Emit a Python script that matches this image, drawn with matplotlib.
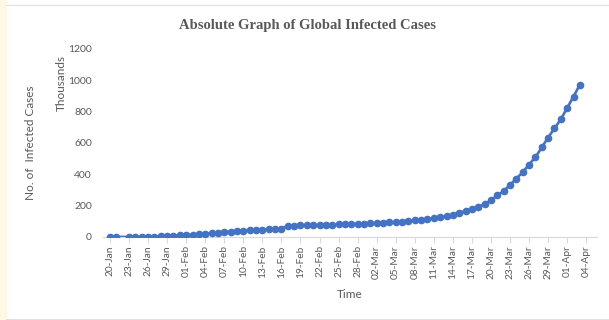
import matplotlib
matplotlib.use("Agg")
import matplotlib.pyplot as plt
import matplotlib.dates as mdates
import numpy as np
import pandas as pd

# global infected cases, thousands (22-Jan has no report)
dates = pd.to_datetime(["2020-01-20", "2020-01-21"] +
                       [d.strftime("%Y-%m-%d") for d in pd.date_range("2020-01-23", "2020-04-03")])
cases = [0.282, 0.314, 0.581, 0.846, 1.320, 2.014, 2.798, 4.593, 6.065, 7.818, 9.826,
         11.953, 14.557, 17.391, 20.630, 24.554, 28.276, 31.481, 34.886, 37.558, 40.554,
         43.103, 45.171, 46.997, 49.053, 50.580, 51.857, 71.429, 73.332, 75.204, 75.748,
         76.769, 77.794, 78.811, 79.331, 80.239, 81.109, 82.294, 83.652, 85.403,
         87.137, 88.948, 90.870, 93.090, 95.324, 98.192, 101.927, 105.586, 109.577,
         113.702, 118.319, 125.260, 132.758, 142.534, 153.517, 167.515, 179.112,
         191.127, 209.839, 234.073, 266.073, 292.142, 332.930, 372.757, 413.467,
         462.684, 509.164, 571.678, 634.835, 693.224, 750.890, 823.626, 896.450, 972.303]
tick_dates = pd.date_range("2020-01-20", "2020-04-04", freq="3D")
y_ticks = [0, 200, 400, 600, 800, 1000, 1200]

grey = "#595959"
plt.rcParams["font.family"] = ["Lato", "DejaVu Sans"]

fig = plt.figure(figsize=(6.09, 3.20), dpi=100)
# cream strip on the left and thin frame lines, as in the screenshot
fig.patches.append(plt.Rectangle((0, 0), 6 / 609, 1, transform=fig.transFigure,
                                 color="#FFF8E5", zorder=0))
fig.add_artist(plt.Line2D([6 / 609, 1], [1 - 5 / 320] * 2, color="#E0E0E0", lw=0.8))
fig.add_artist(plt.Line2D([6 / 609, 1], [1 / 320] * 2, color="#E0E0E0", lw=0.8))

ax = fig.add_axes([103 / 609, 1 - 237 / 320, 494 / 609, 188 / 320])
ax.plot(dates, cases, color="#4472C4", lw=1.9, marker="o", ms=4.5, zorder=3)

ax.set_ylim(0, 1200)
ax.set_yticks(y_ticks)
ax.set_xlim(mdates.date2num(pd.Timestamp("2020-01-20")) - 1.1,
            mdates.date2num(pd.Timestamp("2020-04-04")) + 1.7)
ax.set_xticks(tick_dates)
ax.xaxis.set_major_formatter(mdates.DateFormatter("%d-%b"))
ax.tick_params(axis="x", rotation=90, labelsize=7.3, colors=grey, length=4,
               color="#D9D9D9", pad=2)
ax.tick_params(axis="y", labelsize=7.5, colors=grey, length=0, pad=8)

for s in ["top", "right", "left"]:
    ax.spines[s].set_visible(False)
ax.spines["bottom"].set_color("#D9D9D9")

fig.text(307 / 609, 1 - 25 / 320, "Absolute Graph of Global Infected Cases",
         ha="center", va="center", fontsize=10.5, fontweight="bold",
         family="Liberation Serif", color=grey)
fig.text(31 / 609, 1 - 143 / 320, "No. of  Infected Cases", rotation=90,
         ha="center", va="center", fontsize=8.5, color=grey)
fig.text(61 / 609, 1 - 83 / 320, "Thousands", rotation=90,
         ha="center", va="center", fontsize=8.5, color=grey)
fig.text(350 / 609, 1 - 295 / 320, "Time", ha="center", va="center",
         fontsize=8.5, color=grey)

fig.savefig("out.png", dpi=100)
